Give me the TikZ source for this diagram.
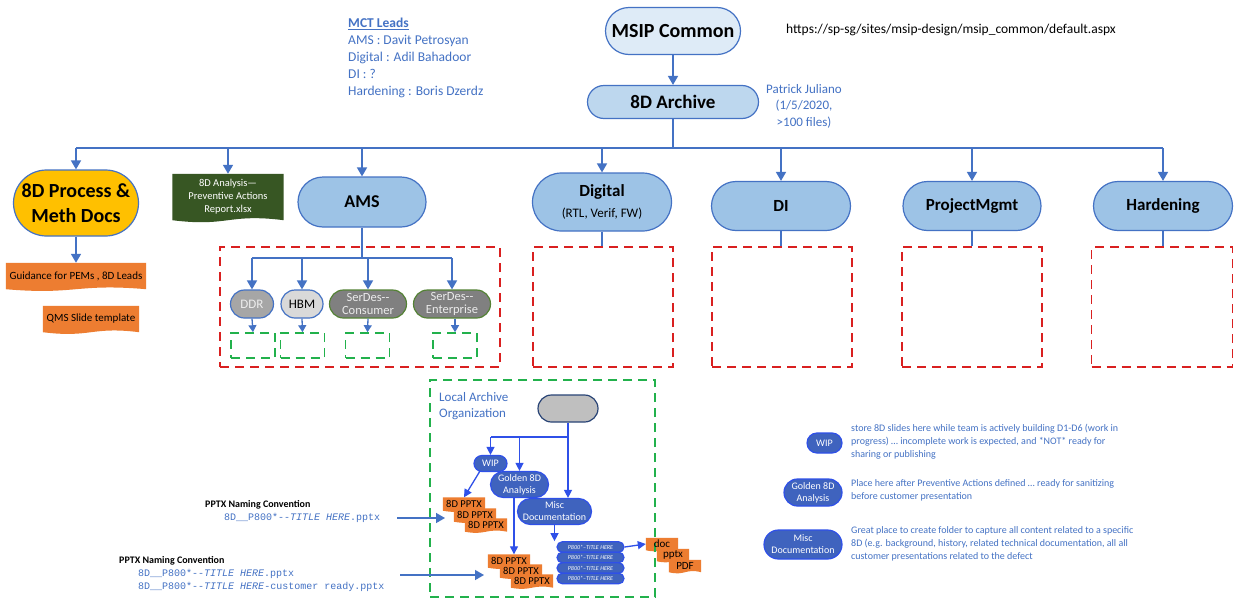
\documentclass[tikz,border=0pt]{standalone}
\usepackage{fontspec}
\setmainfont{Carlito}
\setmonofont{Liberation Mono}
\usetikzlibrary{arrows.meta,calc,shapes.misc}
\pgfdeclarelayer{background}\pgfsetlayers{background,main}
\definecolor{cblue}{HTML}{4472C4}
\definecolor{lblue}{HTML}{DEEBF7}
\definecolor{mblue}{HTML}{BDD7EE}
\definecolor{pblue}{HTML}{9DC3E6}
\definecolor{cgold}{HTML}{FFC000}
\definecolor{corange}{HTML}{ED7D31}
\definecolor{dgreen}{HTML}{375623}
\definecolor{cred}{HTML}{D92020}
\definecolor{cgreen}{HTML}{22B14C}
\definecolor{nblue}{HTML}{3F63BE}
\definecolor{bblue}{HTML}{2F50E8}
\definecolor{sgreen}{HTML}{548235}
\newcommand\myfs[2]{\fontsize{#1}{#2}\selectfont}
\newcommand\wdoc[3]{%
  \begin{pgfonlayer}{background}
  \fill[#2] (#1.north west) -- (#1.north east) -- (#1.south east)
    .. controls ($(#1.south east)!0.5!(#1.south west)+(0,-#3)$) and ($(#1.south east)!0.5!(#1.south west)+(0,#3)$) .. (#1.south west) -- cycle;
  \end{pgfonlayer}}
\tikzset{
  pill/.style={rounded rectangle, draw=cblue, line width=1.2pt, inner sep=1pt, align=center},
  bigpill/.style={pill, fill=pblue, font=\bfseries\myfs{17}{20}},
  redbox/.style={draw=cred, line width=1.6pt, dash pattern=on 9pt off 6pt},
  grnbox/.style={draw=cgreen, line width=1.6pt, dash pattern=on 9pt off 6pt},
  conn/.style={draw=cblue, line width=1.6pt},
  arr/.style={conn, -{Triangle[length=9pt,width=10pt]}},
  larr/.style={draw=bblue, line width=1.3pt, -{Triangle[length=8pt,width=8pt]}},
  lconn/.style={draw=bblue, line width=1.3pt},
  lpill/.style={rounded rectangle, draw=bblue, line width=1.2pt, fill=nblue, text=white, inner sep=1pt, align=center, font=\myfs{10}{12}},
  docn/.style={inner sep=0pt, align=center},
  btxt/.style={text=cblue, align=left, inner sep=0pt},
}
\begin{document}
\begin{tikzpicture}[x=1pt,y=-1pt]
\useasboundingbox (0,0) rectangle (1238,605);
\begin{pgfonlayer}{background}
\fill[white] (0,0) rectangle (1238,605);
\end{pgfonlayer}
% top
\node[pill, fill=lblue, minimum width=137, minimum height=47, font=\bfseries\myfs{20}{24}] (msip) at (673,31) {MSIP Common};
\node[anchor=west, inner sep=0pt, font=\myfs{13.5}{16}] (url) at (786,30) {https://sp-sg/sites/msip-design/msip\_common/default.aspx};
\node[pill, fill=mblue, minimum width=173, minimum height=33, font=\bfseries\myfs{19}{22}] (arch) at (673,102) {8D Archive};
\node[btxt, align=center, font=\myfs{13}{16.5}] (pj) at (804,106) {Patrick Juliano\\(1/5/2020,\\>100 files)};
\node[btxt, anchor=north west, font=\myfs{13.5}{17}] (mct) at (348,18) {\textbf{\underline{MCT Leads}}\\AMS : Davit Petrosyan\\Digital : Adil Bahadoor\\DI : ?\\Hardening : Boris Dzerdz};
\draw[arr] (msip) -- (arch);
% level 2 nodes
\node[pill, fill=cgold, minimum width=127, minimum height=66, font=\bfseries\myfs{20}{25}] (proc) at (76,203) {8D Process \&\\Meth Docs};
\node[docn, minimum width=140, minimum height=26, font=\myfs{11}{13}] (guid) at (76,276) {Guidance for PEMs , 8D Leads};
\wdoc{guid}{corange}{6}
\node[docn, minimum width=96, minimum height=26, font=\myfs{11}{13}] (qms) at (91,319) {QMS Slide template};
\wdoc{qms}{corange}{6}
\node[docn, minimum width=111, minimum height=46, text=white, font=\myfs{10.5}{13}] (ana) at (228,197) {8D Analysis---\\Preventive Actions\\Report.xlsx};
\wdoc{ana}{dgreen}{7}
\node[bigpill, minimum width=130, minimum height=50, font=\bfseries\myfs{18}{21}] (ams) at (362,202) {AMS};
\node[bigpill, minimum width=141, minimum height=58] (dig) at (602,202) {Digital\\[1pt]{\normalfont\myfs{13}{15}(RTL, Verif, FW)}};
\node[bigpill, minimum width=141, minimum height=49] (di) at (781,206) {DI};
\node[bigpill, minimum width=140, minimum height=49] (pm) at (972,206) {ProjectMgmt};
\node[bigpill, minimum width=141, minimum height=49] (hd) at (1163,206) {Hardening};
% bus
\coordinate (bl) at (76,148);
\coordinate (br) at (1163,148);
\draw[conn] (arch.south) -- (arch.south |- bl);
\draw[conn] (bl) -- (br);
\draw[arr] (proc.north |- bl) -- (proc.north);
\draw[arr] (ana.north |- bl) -- (ana.north);
\draw[arr] (ams.north |- bl) -- (ams.north);
\draw[arr] (dig.north |- bl) -- (dig.north);
\draw[arr] (di.north |- bl) -- (di.north);
\draw[arr] (pm.north |- bl) -- (pm.north);
\draw[arr] (br) -- (hd.north);
\draw[arr] (proc.south) -- (guid.north);
% red boxes
\node[redbox, minimum width=280, minimum height=120, inner sep=0pt] (amsb) at (360,307) {};
\node[redbox, minimum width=140, minimum height=120, inner sep=0pt] (digb) at (603,307) {};
\node[redbox, minimum width=140, minimum height=120, inner sep=0pt] (dib) at (782,307) {};
\node[redbox, minimum width=140, minimum height=120, inner sep=0pt] (pmb) at (972,307) {};
\node[redbox, minimum width=141, minimum height=120, inner sep=0pt] (hdb) at (1162,307) {};
\draw[conn] (dig.south) -- (dig.south |- digb.north);
\draw[conn] (di.south) -- (di.south |- dib.north);
\draw[conn] (pm.south) -- (pm.south |- pmb.north);
\draw[conn] (hd.south) -- (hd.south |- hdb.north);
% AMS sub
\node[pill, fill=gray!70, text=white!93!black, minimum width=45, minimum height=28, font=\myfs{13}{15}] (ddr) at (252,304) {DDR};
\node[pill, fill=black!15, minimum width=44, minimum height=28, font=\myfs{13}{15}] (hbm) at (302,304) {HBM};
\node[pill, draw=sgreen, fill=black!50, text=black!8, minimum width=79, minimum height=28, font=\myfs{12.5}{13}] (sc) at (368,304) {SerDes-{}-\\Consumer};
\node[pill, draw=sgreen, fill=black!50, text=black!8, minimum width=79, minimum height=28, font=\myfs{12.5}{13}] (se) at (452,304) {SerDes-{}-\\Enterprise};
\coordinate (ab) at (362,258);
\draw[conn] (ams.south) -- (ab);
\draw[conn] (ddr.north |- ab) -- (se.north |- ab);
\draw[arr] (ddr.north |- ab) -- (ddr.north);
\draw[arr] (hbm.north |- ab) -- (hbm.north);
\draw[arr] (sc.north |- ab) -- (sc.north);
\draw[arr] (se.north |- ab) -- (se.north);
\tikzset{sg/.style={grnbox, minimum width=44, minimum height=25, inner sep=0pt}}
\node[sg] (g1) at (253,345.5) {};
\node[sg] (g2) at (302.5,345.5) {};
\node[sg] (g3) at (367.5,345.5) {};
\node[sg] (g4) at (455,345.5) {};
\tikzset{sarr/.style={conn, line width=1.3pt, -{Triangle[length=7pt,width=8pt]}}}
\draw[sarr] (ddr.south) -- (g1.north);
\draw[sarr] (hbm.south) -- (g2.north);
\draw[sarr] (sc.south) -- (g3.north);
\draw[sarr] (g4.north |- se.south) -- (g4.north);
% local archive
\node[grnbox, minimum width=225, minimum height=217, inner sep=0pt] (lab) at (542.5,488.5) {};
\node[btxt, anchor=north west, font=\myfs{13}{16}] (lat) at (439,392) {Local Archive\\Organization};
\node[pill, draw=cblue!60!black, fill=black!25, minimum width=62, minimum height=27] (gp) at (568,408.5) {};
\node[lpill, minimum width=35, minimum height=16] (wip) at (490.5,463.5) {WIP};
\node[lpill, minimum width=60, minimum height=26] (gold) at (519.5,484.5) {Golden 8D\\Analysis};
\node[lpill, minimum width=76, minimum height=26] (misc) at (554.5,511.5) {Misc\\Documentation};
\coordinate (lb) at (568,437);
\draw[lconn] (gp.south) -- (lb) -- (wip.north |- lb);
\draw[larr] (wip.north |- lb) -- (wip.north);
\draw[larr] (gold.north |- lb) -- (gold.north);
\draw[larr] (lb) -- (lb |- misc.north);
% stacks
\tikzset{od/.style={docn, minimum width=42, minimum height=13, font=\myfs{10.5}{12}}}
\node[od] (s1a) at (464,504) {8D PPTX};
\wdoc{s1a}{corange}{4}
\node[od] (s1b) at (475,515) {8D PPTX};
\wdoc{s1b}{corange}{4}
\node[od] (s1c) at (486,525) {8D PPTX};
\wdoc{s1c}{corange}{4}
\node[od] (s2a) at (509,561) {8D PPTX};
\wdoc{s2a}{corange}{4}
\node[od] (s2b) at (521,571) {8D PPTX};
\wdoc{s2b}{corange}{4}
\node[od] (s2c) at (532,581) {8D PPTX};
\wdoc{s2c}{corange}{4}
\coordinate (ws) at (480,471);
\draw[larr] (ws) -- (s1a.north);
\coordinate (gs) at (514,497);
\draw[larr] (gs) -- (gs |- s2a.north);
\tikzset{pp/.style={lpill, minimum width=69, minimum height=10.5, font=\itshape\myfs{6}{7}}}
\node[pp] (p1) at (590.5,547) {P800*--TITLE HERE};
\node[pp] (p2) at (590.5,557.5) {P800*--TITLE HERE};
\node[pp] (p3) at (590.5,568) {P800*--TITLE HERE};
\node[pp] (p4) at (590.5,578.5) {P800*--TITLE HERE};
\draw[larr] (misc.south) -- (misc.south |- p1.north);
\tikzset{dd/.style={docn, minimum width=32, minimum height=12, font=\myfs{11}{12}}}
\node[dd] (d1) at (662,544) {doc};
\wdoc{d1}{corange}{4}
\node[dd] (d2) at (673,555) {pptx};
\wdoc{d2}{corange}{4}
\node[dd] (d3) at (685,566) {PDF};
\wdoc{d3}{corange}{4}
\draw[larr] (p1.east) -- (d1.west);
% naming conventions
\node[anchor=west, inner sep=0pt, font=\bfseries\myfs{10}{12}] (nc1) at (205,505) {PPTX Naming Convention};
\node[anchor=west, inner sep=0pt, text=cblue, font=\ttfamily\myfs{10}{13}] (nc1m) at (224,518) {8D\_\_P800*--\textit{TITLE HERE}.pptx};
\coordinate (t1s) at (397,518);
\coordinate (t1) at (445,518);
\draw[arr, line width=1.4pt] (t1s) -- (t1);
\node[anchor=west, inner sep=0pt, font=\bfseries\myfs{10}{12}] (nc2) at (119,561) {PPTX Naming Convention};
\node[anchor=north west, inner sep=0pt, text=cblue, font=\ttfamily\myfs{10}{13}, align=left] (nc2m) at (138,569) {8D\_\_P800*--\textit{TITLE HERE}.pptx\\8D\_\_P800*--\textit{TITLE HERE}-customer ready.pptx};
\coordinate (t2s) at (400,575);
\coordinate (t2) at (484,575);
\draw[arr, line width=1.4pt] (t2s) -- (t2);
% legend
\node[lpill, minimum width=37, minimum height=20] (lw) at (824.5,443) {WIP};
\node[btxt, anchor=north west, font=\myfs{10}{13}] (lwt) at (851,424) {store 8D slides here while team is actively building D1-D6 (work in\\progress) \dots\ incomplete work is expected, and *NOT* ready for\\sharing or publishing};
\node[lpill, minimum width=60, minimum height=27] (lg) at (813,492.5) {Golden 8D\\Analysis};
\node[btxt, anchor=north west, font=\myfs{10}{13}] (lgt) at (851,479) {Place here after Preventive Actions defined \dots\ ready for sanitizing\\before customer presentation};
\node[lpill, minimum width=80, minimum height=29] (lm) at (803,544.5) {Misc\\Documentation};
\node[btxt, anchor=north west, font=\myfs{10}{13}] (lmt) at (851,526) {Great place to create folder to capture all content related to a specific\\8D (e.g. background, history, related technical documentation, all all\\customer presentations related to the defect};
\end{tikzpicture}
\end{document}
